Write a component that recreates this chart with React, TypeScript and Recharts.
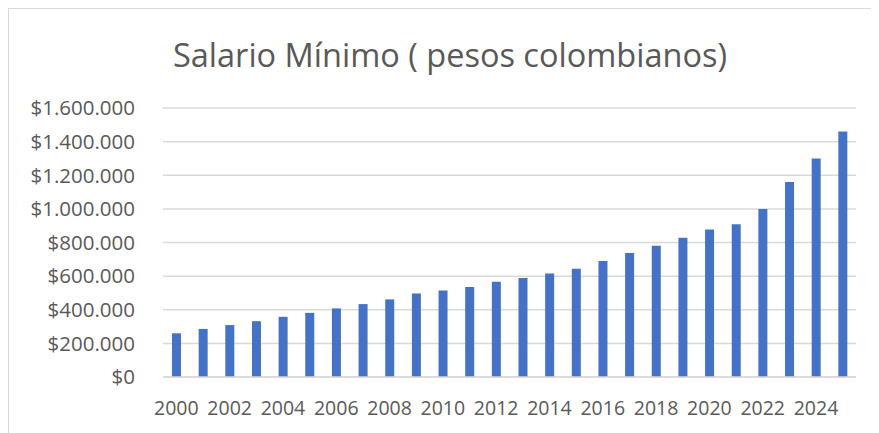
import { BarChart, Bar, XAxis, YAxis, CartesianGrid } from "recharts";

const years = [
  "2000", "2001", "2002", "2003", "2004", "2005", "2006", "2007", "2008",
  "2009", "2010", "2011", "2012", "2013", "2014", "2015", "2016", "2017",
  "2018", "2019", "2020", "2021", "2022", "2023", "2024", "2025",
];

const salario = [
  260100, 286000, 309000, 332000, 358000, 381500, 408000, 433700, 461500,
  496900, 515000, 535600, 566700, 589500, 616000, 644350, 689455, 737717,
  781242, 828116, 877803, 908526, 1000000, 1160000, 1300000, 1460000,
];

const yTicks = [0, 200000, 400000, 600000, 800000, 1000000, 1200000, 1400000, 1600000];

const data = years.map((y, i) => ({ year: y, value: salario[i] }));

const FONT = "'Open Sans', sans-serif";
const GREY = "#595959";

const fmtPesos = (v: number) =>
  "$" + String(v).replace(/\B(?=(\d{3})+(?!\d))/g, ".");

export default function App() {
  return (
    <div
      style={{
        position: "relative",
        width: 862,
        height: 440,
        border: "1px solid #d9d9d9",
        background: "#fff",
        fontFamily: FONT,
      }}
    >
      <div
        style={{
          position: "absolute",
          top: 25,
          left: 20,
          width: 842,
          textAlign: "center",
          fontSize: 32.5,
          color: GREY,
          lineHeight: "42px",
        }}
      >
        Salario Mínimo ( pesos colombianos)
      </div>
      <BarChart
        width={862}
        height={425}
        data={data}
        margin={{ top: 99, right: 15, left: 0, bottom: 17 }}
        barSize={9}
      >
        <CartesianGrid vertical={false} stroke="#d9d9d9" strokeWidth={1.5} />
        <XAxis
          dataKey="year"
          interval={1}
          height={40}
          axisLine={{ stroke: "#d9d9d9", strokeWidth: 1.5 }}
          tickLine={false}
          tickSize={0}
          tickMargin={24}
          tick={{ fontSize: 19.5, fill: GREY, fontFamily: FONT }}
        />
        <YAxis
          width={154}
          domain={[0, 1600000]}
          ticks={yTicks}
          tickFormatter={fmtPesos}
          axisLine={false}
          tickLine={false}
          tickSize={0}
          tickMargin={28}
          tick={{ fontSize: 20.5, fill: GREY, fontFamily: FONT }}
        />
        <Bar dataKey="value" fill="#4472c4" isAnimationActive={false} />
      </BarChart>
    </div>
  );
}
